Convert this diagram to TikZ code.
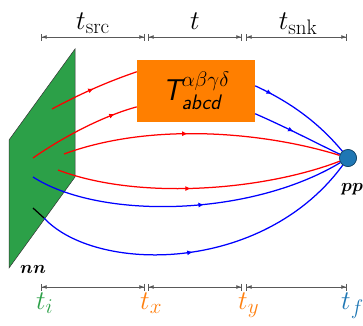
\RequirePackage{fix-cm}
\documentclass[tikz,border=0pt]{standalone}
\usepackage{amsmath,amssymb,bm}
\usepackage{tikz}
\usetikzlibrary{arrows.meta,positioning,calc,decorations.markings}
\DeclareMathSizes{27}{27}{21}{16}
\definecolor{srcgreen}{RGB}{44,160,72}
\definecolor{oporange}{RGB}{255,127,0}
\definecolor{tlorange}{RGB}{255,127,14}
\definecolor{snkblue}{RGB}{31,119,180}
\tikzset{
  planefill/.style={draw=black!80, line width=0.5pt, fill=srcgreen},
  quarkln/.style={line width=1.25pt},
  redln/.style={quarkln, red},
  blueln/.style={quarkln, blue},
  midarrow/.style={postaction={decorate, decoration={markings,
      mark=at position #1 with {\arrow{Latex[length=5.5pt,width=5pt]}}}}},
  spanln/.style={{Bar[width=7pt]Latex[length=5pt,width=4pt]}-{Latex[length=5pt,width=4pt]Bar[width=7pt]},
    line width=0.7pt, black!65},
  tlabel/.style={font=\fontsize{27}{32}\selectfont, inner sep=0pt},
  hadlabel/.style={font=\fontsize{18}{22}\selectfont, inner sep=0pt},
  opbox/.style={fill=oporange, minimum width=118pt, minimum height=62pt, inner sep=0pt},
  sinkdot/.style={circle, fill=snkblue, draw=snkblue!55!black, line width=0.6pt,
    minimum size=17pt, inner sep=0pt},
}

\begin{document}
\begin{tikzpicture}[x=1pt, y=1pt]
    \useasboundingbox (0,0) rectangle (363,325);
    % source plane
    \draw[planefill] (9,185) -- (75,276) -- (75,148) -- (9,57) -- cycle;
    \node[hadlabel, anchor=base west] (nn) at (20,52) {$\boldsymbol{nn}$};
    % start points on the plane
    \coordinate (s1) at (52,216);
    \coordinate (s2) at (33,167);
    \coordinate (s3) at (64,171);
    \coordinate (s4) at (58,155);
    \coordinate (s5) at (33,148);
    \coordinate (s6) at (33,117);
    \coordinate (s6b) at (44,107);
    % operator and sink
    \node[opbox] (op) at (196,234) {\fontsize{30}{34}\selectfont
      $\textsf{\itshape T}^{\alpha\beta\gamma\delta}_{\textsf{\itshape abcd}}$};
    \node[sinkdot] (pp) at (348,167) {};
    \node[hadlabel, anchor=base west] (pplab) at (341,134) {$\boldsymbol{pp}$};
    % quark lines into the operator
    \draw[redln, midarrow=0.5] (s1) .. controls (82,232) and (107,243) .. (op.162);
    \draw[redln, midarrow=0.8] (s2) .. controls (63,188) and (103,209) .. (op.195);
    % quark lines out of the operator
    \draw[blueln, midarrow=0.17] (op.5) .. controls (290,223) and (318,203) .. (pp);
    \draw[blueln, midarrow=0.45] (op.339) .. controls (290,196) and (320,180) .. (pp);
    % spectator lines
    \draw[redln, midarrow=0.45] (s3) .. controls (154,204) and (268,192) .. (pp);
    \draw[redln, midarrow=0.47] (s4) .. controls (140,124) and (265,135) .. (pp);
    \draw[blueln, midarrow=0.55] (s5) .. controls (100,105) and (250,108) .. (pp);
    \draw[quarkln, black] (s6) -- (s6b);
    \draw[blueln, midarrow=0.47] (s6b) .. controls (95,52) and (262,50) .. (pp);
    \node[sinkdot] at (pp) {};
    % time spans
    \foreach \a/\b in {41/145, 148/242, 246/347} {
      \draw[spanln] (\a,288) -- (\b,288);
      \draw[spanln] (\a,38) -- (\b,38);
    }
    \node[tlabel, anchor=base] (tsrc) at (93,296) {$t_{\mathrm{src}}$};
    \node[tlabel, anchor=base] (tins) at (195,296) {$t$};
    \node[tlabel, anchor=base] (tsnk) at (298,296) {$t_{\mathrm{snk}}$};
    % time slices
    \node[tlabel, anchor=base west, srcgreen] (ti) at (36,16) {$t_i$};
    \node[tlabel, anchor=base west, tlorange] (tx) at (140,16) {$t_x$};
    \node[tlabel, anchor=base west, tlorange] (ty) at (238,16) {$t_y$};
    \node[tlabel, anchor=base west, snkblue] (tf) at (341,16) {$t_f$};
\end{tikzpicture}
\end{document}
